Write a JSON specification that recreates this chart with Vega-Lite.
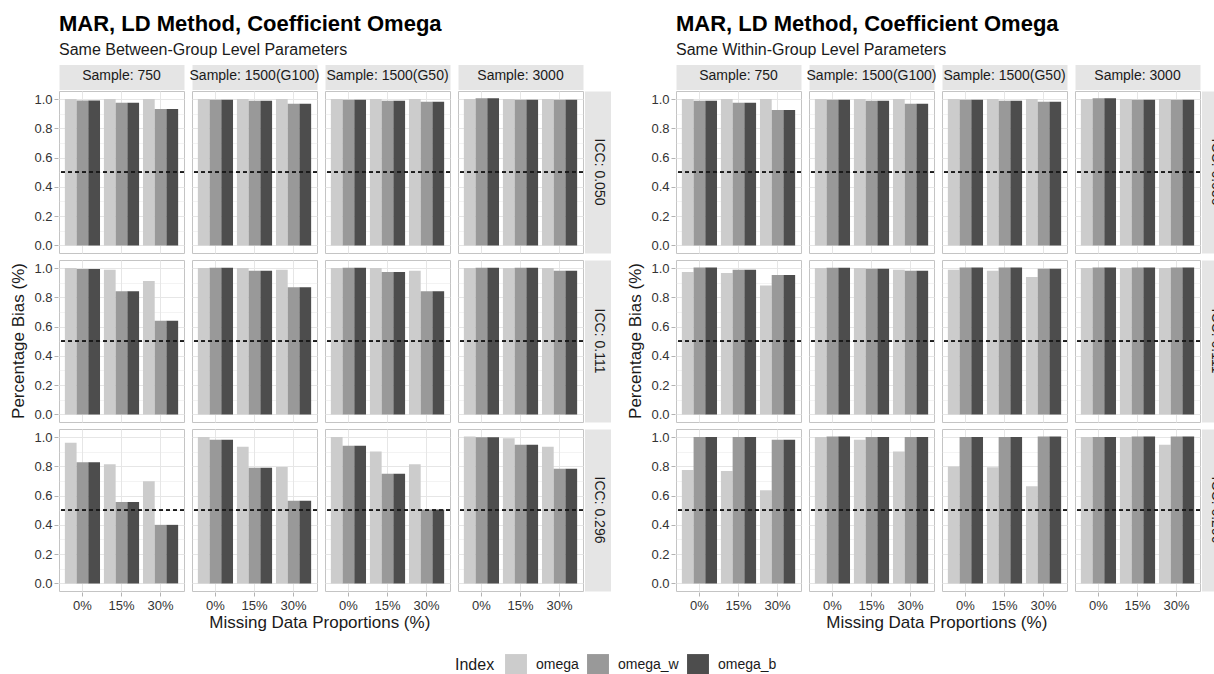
{
  "$schema": "https://vega.github.io/schema/vega-lite/v6.json",
  "background": "white",
  "padding": {"left": 9, "top": 12, "right": 0, "bottom": 0},
  "datasets": {
    "B": [
      {"i":"0.050","s":"750","m":"0%","k":"omega","v":1.0},{"i":"0.050","s":"750","m":"0%","k":"omega_w","v":0.99},{"i":"0.050","s":"750","m":"0%","k":"omega_b","v":0.99},
      {"i":"0.050","s":"750","m":"15%","k":"omega","v":1.0},{"i":"0.050","s":"750","m":"15%","k":"omega_w","v":0.975},{"i":"0.050","s":"750","m":"15%","k":"omega_b","v":0.975},
      {"i":"0.050","s":"750","m":"30%","k":"omega","v":1.0},{"i":"0.050","s":"750","m":"30%","k":"omega_w","v":0.932},{"i":"0.050","s":"750","m":"30%","k":"omega_b","v":0.932},
      {"i":"0.050","s":"1500(G100)","m":"0%","k":"omega","v":1.0},{"i":"0.050","s":"1500(G100)","m":"0%","k":"omega_w","v":0.995},{"i":"0.050","s":"1500(G100)","m":"0%","k":"omega_b","v":0.995},
      {"i":"0.050","s":"1500(G100)","m":"15%","k":"omega","v":1.0},{"i":"0.050","s":"1500(G100)","m":"15%","k":"omega_w","v":0.989},{"i":"0.050","s":"1500(G100)","m":"15%","k":"omega_b","v":0.989},
      {"i":"0.050","s":"1500(G100)","m":"30%","k":"omega","v":1.0},{"i":"0.050","s":"1500(G100)","m":"30%","k":"omega_w","v":0.968},{"i":"0.050","s":"1500(G100)","m":"30%","k":"omega_b","v":0.968},
      {"i":"0.050","s":"1500(G50)","m":"0%","k":"omega","v":1.0},{"i":"0.050","s":"1500(G50)","m":"0%","k":"omega_w","v":0.995},{"i":"0.050","s":"1500(G50)","m":"0%","k":"omega_b","v":0.995},
      {"i":"0.050","s":"1500(G50)","m":"15%","k":"omega","v":1.0},{"i":"0.050","s":"1500(G50)","m":"15%","k":"omega_w","v":0.989},{"i":"0.050","s":"1500(G50)","m":"15%","k":"omega_b","v":0.989},
      {"i":"0.050","s":"1500(G50)","m":"30%","k":"omega","v":1.0},{"i":"0.050","s":"1500(G50)","m":"30%","k":"omega_w","v":0.982},{"i":"0.050","s":"1500(G50)","m":"30%","k":"omega_b","v":0.982},
      {"i":"0.050","s":"3000","m":"0%","k":"omega","v":1.0},{"i":"0.050","s":"3000","m":"0%","k":"omega_w","v":1.005},{"i":"0.050","s":"3000","m":"0%","k":"omega_b","v":1.005},
      {"i":"0.050","s":"3000","m":"15%","k":"omega","v":1.0},{"i":"0.050","s":"3000","m":"15%","k":"omega_w","v":0.995},{"i":"0.050","s":"3000","m":"15%","k":"omega_b","v":0.995},
      {"i":"0.050","s":"3000","m":"30%","k":"omega","v":1.0},{"i":"0.050","s":"3000","m":"30%","k":"omega_w","v":0.995},{"i":"0.050","s":"3000","m":"30%","k":"omega_b","v":0.995},
      {"i":"0.111","s":"750","m":"0%","k":"omega","v":1.0},{"i":"0.111","s":"750","m":"0%","k":"omega_w","v":0.994},{"i":"0.111","s":"750","m":"0%","k":"omega_b","v":0.994},
      {"i":"0.111","s":"750","m":"15%","k":"omega","v":0.989},{"i":"0.111","s":"750","m":"15%","k":"omega_w","v":0.842},{"i":"0.111","s":"750","m":"15%","k":"omega_b","v":0.842},
      {"i":"0.111","s":"750","m":"30%","k":"omega","v":0.911},{"i":"0.111","s":"750","m":"30%","k":"omega_w","v":0.64},{"i":"0.111","s":"750","m":"30%","k":"omega_b","v":0.64},
      {"i":"0.111","s":"1500(G100)","m":"0%","k":"omega","v":1.0},{"i":"0.111","s":"1500(G100)","m":"0%","k":"omega_w","v":1.002},{"i":"0.111","s":"1500(G100)","m":"0%","k":"omega_b","v":1.002},
      {"i":"0.111","s":"1500(G100)","m":"15%","k":"omega","v":1.0},{"i":"0.111","s":"1500(G100)","m":"15%","k":"omega_w","v":0.982},{"i":"0.111","s":"1500(G100)","m":"15%","k":"omega_b","v":0.982},
      {"i":"0.111","s":"1500(G100)","m":"30%","k":"omega","v":0.989},{"i":"0.111","s":"1500(G100)","m":"30%","k":"omega_w","v":0.868},{"i":"0.111","s":"1500(G100)","m":"30%","k":"omega_b","v":0.868},
      {"i":"0.111","s":"1500(G50)","m":"0%","k":"omega","v":1.0},{"i":"0.111","s":"1500(G50)","m":"0%","k":"omega_w","v":1.002},{"i":"0.111","s":"1500(G50)","m":"0%","k":"omega_b","v":1.002},
      {"i":"0.111","s":"1500(G50)","m":"15%","k":"omega","v":1.0},{"i":"0.111","s":"1500(G50)","m":"15%","k":"omega_w","v":0.973},{"i":"0.111","s":"1500(G50)","m":"15%","k":"omega_b","v":0.973},
      {"i":"0.111","s":"1500(G50)","m":"30%","k":"omega","v":0.982},{"i":"0.111","s":"1500(G50)","m":"30%","k":"omega_w","v":0.842},{"i":"0.111","s":"1500(G50)","m":"30%","k":"omega_b","v":0.842},
      {"i":"0.111","s":"3000","m":"0%","k":"omega","v":1.0},{"i":"0.111","s":"3000","m":"0%","k":"omega_w","v":1.002},{"i":"0.111","s":"3000","m":"0%","k":"omega_b","v":1.002},
      {"i":"0.111","s":"3000","m":"15%","k":"omega","v":1.0},{"i":"0.111","s":"3000","m":"15%","k":"omega_w","v":1.002},{"i":"0.111","s":"3000","m":"15%","k":"omega_b","v":1.002},
      {"i":"0.111","s":"3000","m":"30%","k":"omega","v":1.0},{"i":"0.111","s":"3000","m":"30%","k":"omega_w","v":0.982},{"i":"0.111","s":"3000","m":"30%","k":"omega_b","v":0.982},
      {"i":"0.296","s":"750","m":"0%","k":"omega","v":0.961},{"i":"0.296","s":"750","m":"0%","k":"omega_w","v":0.827},{"i":"0.296","s":"750","m":"0%","k":"omega_b","v":0.827},
      {"i":"0.296","s":"750","m":"15%","k":"omega","v":0.814},{"i":"0.296","s":"750","m":"15%","k":"omega_w","v":0.557},{"i":"0.296","s":"750","m":"15%","k":"omega_b","v":0.557},
      {"i":"0.296","s":"750","m":"30%","k":"omega","v":0.698},{"i":"0.296","s":"750","m":"30%","k":"omega_w","v":0.4},{"i":"0.296","s":"750","m":"30%","k":"omega_b","v":0.4},
      {"i":"0.296","s":"1500(G100)","m":"0%","k":"omega","v":1.0},{"i":"0.296","s":"1500(G100)","m":"0%","k":"omega_w","v":0.982},{"i":"0.296","s":"1500(G100)","m":"0%","k":"omega_b","v":0.982},
      {"i":"0.296","s":"1500(G100)","m":"15%","k":"omega","v":0.934},{"i":"0.296","s":"1500(G100)","m":"15%","k":"omega_w","v":0.791},{"i":"0.296","s":"1500(G100)","m":"15%","k":"omega_b","v":0.791},
      {"i":"0.296","s":"1500(G100)","m":"30%","k":"omega","v":0.795},{"i":"0.296","s":"1500(G100)","m":"30%","k":"omega_w","v":0.564},{"i":"0.296","s":"1500(G100)","m":"30%","k":"omega_b","v":0.564},
      {"i":"0.296","s":"1500(G50)","m":"0%","k":"omega","v":1.0},{"i":"0.296","s":"1500(G50)","m":"0%","k":"omega_w","v":0.941},{"i":"0.296","s":"1500(G50)","m":"0%","k":"omega_b","v":0.941},
      {"i":"0.296","s":"1500(G50)","m":"15%","k":"omega","v":0.902},{"i":"0.296","s":"1500(G50)","m":"15%","k":"omega_w","v":0.75},{"i":"0.296","s":"1500(G50)","m":"15%","k":"omega_b","v":0.75},
      {"i":"0.296","s":"1500(G50)","m":"30%","k":"omega","v":0.814},{"i":"0.296","s":"1500(G50)","m":"30%","k":"omega_w","v":0.505},{"i":"0.296","s":"1500(G50)","m":"30%","k":"omega_b","v":0.505},
      {"i":"0.296","s":"3000","m":"0%","k":"omega","v":1.003},{"i":"0.296","s":"3000","m":"0%","k":"omega_w","v":0.998},{"i":"0.296","s":"3000","m":"0%","k":"omega_b","v":0.998},
      {"i":"0.296","s":"3000","m":"15%","k":"omega","v":0.991},{"i":"0.296","s":"3000","m":"15%","k":"omega_w","v":0.948},{"i":"0.296","s":"3000","m":"15%","k":"omega_b","v":0.948},
      {"i":"0.296","s":"3000","m":"30%","k":"omega","v":0.934},{"i":"0.296","s":"3000","m":"30%","k":"omega_w","v":0.784},{"i":"0.296","s":"3000","m":"30%","k":"omega_b","v":0.784}
    ],
    "W": [
      {"i":"0.050","s":"750","m":"0%","k":"omega","v":1.0},{"i":"0.050","s":"750","m":"0%","k":"omega_w","v":0.989},{"i":"0.050","s":"750","m":"0%","k":"omega_b","v":0.989},
      {"i":"0.050","s":"750","m":"15%","k":"omega","v":1.0},{"i":"0.050","s":"750","m":"15%","k":"omega_w","v":0.975},{"i":"0.050","s":"750","m":"15%","k":"omega_b","v":0.975},
      {"i":"0.050","s":"750","m":"30%","k":"omega","v":1.0},{"i":"0.050","s":"750","m":"30%","k":"omega_w","v":0.925},{"i":"0.050","s":"750","m":"30%","k":"omega_b","v":0.925},
      {"i":"0.050","s":"1500(G100)","m":"0%","k":"omega","v":1.0},{"i":"0.050","s":"1500(G100)","m":"0%","k":"omega_w","v":0.995},{"i":"0.050","s":"1500(G100)","m":"0%","k":"omega_b","v":0.995},
      {"i":"0.050","s":"1500(G100)","m":"15%","k":"omega","v":1.0},{"i":"0.050","s":"1500(G100)","m":"15%","k":"omega_w","v":0.989},{"i":"0.050","s":"1500(G100)","m":"15%","k":"omega_b","v":0.989},
      {"i":"0.050","s":"1500(G100)","m":"30%","k":"omega","v":1.0},{"i":"0.050","s":"1500(G100)","m":"30%","k":"omega_w","v":0.968},{"i":"0.050","s":"1500(G100)","m":"30%","k":"omega_b","v":0.968},
      {"i":"0.050","s":"1500(G50)","m":"0%","k":"omega","v":1.0},{"i":"0.050","s":"1500(G50)","m":"0%","k":"omega_w","v":0.995},{"i":"0.050","s":"1500(G50)","m":"0%","k":"omega_b","v":0.995},
      {"i":"0.050","s":"1500(G50)","m":"15%","k":"omega","v":1.0},{"i":"0.050","s":"1500(G50)","m":"15%","k":"omega_w","v":0.989},{"i":"0.050","s":"1500(G50)","m":"15%","k":"omega_b","v":0.989},
      {"i":"0.050","s":"1500(G50)","m":"30%","k":"omega","v":1.0},{"i":"0.050","s":"1500(G50)","m":"30%","k":"omega_w","v":0.982},{"i":"0.050","s":"1500(G50)","m":"30%","k":"omega_b","v":0.982},
      {"i":"0.050","s":"3000","m":"0%","k":"omega","v":1.0},{"i":"0.050","s":"3000","m":"0%","k":"omega_w","v":1.005},{"i":"0.050","s":"3000","m":"0%","k":"omega_b","v":1.005},
      {"i":"0.050","s":"3000","m":"15%","k":"omega","v":1.0},{"i":"0.050","s":"3000","m":"15%","k":"omega_w","v":0.995},{"i":"0.050","s":"3000","m":"15%","k":"omega_b","v":0.995},
      {"i":"0.050","s":"3000","m":"30%","k":"omega","v":1.0},{"i":"0.050","s":"3000","m":"30%","k":"omega_w","v":0.995},{"i":"0.050","s":"3000","m":"30%","k":"omega_b","v":0.995},
      {"i":"0.111","s":"750","m":"0%","k":"omega","v":0.973},{"i":"0.111","s":"750","m":"0%","k":"omega_w","v":1.004},{"i":"0.111","s":"750","m":"0%","k":"omega_b","v":1.004},
      {"i":"0.111","s":"750","m":"15%","k":"omega","v":0.966},{"i":"0.111","s":"750","m":"15%","k":"omega_w","v":0.989},{"i":"0.111","s":"750","m":"15%","k":"omega_b","v":0.989},
      {"i":"0.111","s":"750","m":"30%","k":"omega","v":0.881},{"i":"0.111","s":"750","m":"30%","k":"omega_w","v":0.952},{"i":"0.111","s":"750","m":"30%","k":"omega_b","v":0.952},
      {"i":"0.111","s":"1500(G100)","m":"0%","k":"omega","v":1.0},{"i":"0.111","s":"1500(G100)","m":"0%","k":"omega_w","v":1.002},{"i":"0.111","s":"1500(G100)","m":"0%","k":"omega_b","v":1.002},
      {"i":"0.111","s":"1500(G100)","m":"15%","k":"omega","v":1.0},{"i":"0.111","s":"1500(G100)","m":"15%","k":"omega_w","v":0.995},{"i":"0.111","s":"1500(G100)","m":"15%","k":"omega_b","v":0.995},
      {"i":"0.111","s":"1500(G100)","m":"30%","k":"omega","v":0.989},{"i":"0.111","s":"1500(G100)","m":"30%","k":"omega_w","v":0.982},{"i":"0.111","s":"1500(G100)","m":"30%","k":"omega_b","v":0.982},
      {"i":"0.111","s":"1500(G50)","m":"0%","k":"omega","v":0.989},{"i":"0.111","s":"1500(G50)","m":"0%","k":"omega_w","v":1.004},{"i":"0.111","s":"1500(G50)","m":"0%","k":"omega_b","v":1.004},
      {"i":"0.111","s":"1500(G50)","m":"15%","k":"omega","v":0.982},{"i":"0.111","s":"1500(G50)","m":"15%","k":"omega_w","v":1.004},{"i":"0.111","s":"1500(G50)","m":"15%","k":"omega_b","v":1.004},
      {"i":"0.111","s":"1500(G50)","m":"30%","k":"omega","v":0.938},{"i":"0.111","s":"1500(G50)","m":"30%","k":"omega_w","v":0.995},{"i":"0.111","s":"1500(G50)","m":"30%","k":"omega_b","v":0.995},
      {"i":"0.111","s":"3000","m":"0%","k":"omega","v":1.0},{"i":"0.111","s":"3000","m":"0%","k":"omega_w","v":1.004},{"i":"0.111","s":"3000","m":"0%","k":"omega_b","v":1.004},
      {"i":"0.111","s":"3000","m":"15%","k":"omega","v":1.0},{"i":"0.111","s":"3000","m":"15%","k":"omega_w","v":1.004},{"i":"0.111","s":"3000","m":"15%","k":"omega_b","v":1.004},
      {"i":"0.111","s":"3000","m":"30%","k":"omega","v":1.0},{"i":"0.111","s":"3000","m":"30%","k":"omega_w","v":1.004},{"i":"0.111","s":"3000","m":"30%","k":"omega_b","v":1.004},
      {"i":"0.296","s":"750","m":"0%","k":"omega","v":0.775},{"i":"0.296","s":"750","m":"0%","k":"omega_w","v":1.0},{"i":"0.296","s":"750","m":"0%","k":"omega_b","v":1.0},
      {"i":"0.296","s":"750","m":"15%","k":"omega","v":0.768},{"i":"0.296","s":"750","m":"15%","k":"omega_w","v":1.0},{"i":"0.296","s":"750","m":"15%","k":"omega_b","v":1.0},
      {"i":"0.296","s":"750","m":"30%","k":"omega","v":0.636},{"i":"0.296","s":"750","m":"30%","k":"omega_w","v":0.982},{"i":"0.296","s":"750","m":"30%","k":"omega_b","v":0.982},
      {"i":"0.296","s":"1500(G100)","m":"0%","k":"omega","v":1.0},{"i":"0.296","s":"1500(G100)","m":"0%","k":"omega_w","v":1.004},{"i":"0.296","s":"1500(G100)","m":"0%","k":"omega_b","v":1.004},
      {"i":"0.296","s":"1500(G100)","m":"15%","k":"omega","v":0.982},{"i":"0.296","s":"1500(G100)","m":"15%","k":"omega_w","v":1.0},{"i":"0.296","s":"1500(G100)","m":"15%","k":"omega_b","v":1.0},
      {"i":"0.296","s":"1500(G100)","m":"30%","k":"omega","v":0.902},{"i":"0.296","s":"1500(G100)","m":"30%","k":"omega_w","v":1.0},{"i":"0.296","s":"1500(G100)","m":"30%","k":"omega_b","v":1.0},
      {"i":"0.296","s":"1500(G50)","m":"0%","k":"omega","v":0.798},{"i":"0.296","s":"1500(G50)","m":"0%","k":"omega_w","v":1.0},{"i":"0.296","s":"1500(G50)","m":"0%","k":"omega_b","v":1.0},
      {"i":"0.296","s":"1500(G50)","m":"15%","k":"omega","v":0.793},{"i":"0.296","s":"1500(G50)","m":"15%","k":"omega_w","v":1.0},{"i":"0.296","s":"1500(G50)","m":"15%","k":"omega_b","v":1.0},
      {"i":"0.296","s":"1500(G50)","m":"30%","k":"omega","v":0.664},{"i":"0.296","s":"1500(G50)","m":"30%","k":"omega_w","v":1.004},{"i":"0.296","s":"1500(G50)","m":"30%","k":"omega_b","v":1.004},
      {"i":"0.296","s":"3000","m":"0%","k":"omega","v":1.0},{"i":"0.296","s":"3000","m":"0%","k":"omega_w","v":1.0},{"i":"0.296","s":"3000","m":"0%","k":"omega_b","v":1.0},
      {"i":"0.296","s":"3000","m":"15%","k":"omega","v":1.0},{"i":"0.296","s":"3000","m":"15%","k":"omega_w","v":1.004},{"i":"0.296","s":"3000","m":"15%","k":"omega_b","v":1.004},
      {"i":"0.296","s":"3000","m":"30%","k":"omega","v":0.948},{"i":"0.296","s":"3000","m":"30%","k":"omega_w","v":1.004},{"i":"0.296","s":"3000","m":"30%","k":"omega_b","v":1.004}
    ]
  },
  "hconcat": [
    {
      "title": {"text": "Missing Data Proportions (%)", "orient": "bottom", "anchor": "middle", "fontSize": 17, "fontWeight": "normal", "color": "#1a1a1a", "offset": 3, "dx": 12},
      "vconcat": [
        {
          "data": {"name": "B"},
          "title": {"text": "MAR, LD Method, Coefficient Omega", "subtitle": "Same Between-Group Level Parameters", "anchor": "start", "frame": "group"},
          "spacing": {"row": 5, "column": 6},
          "facet": {
            "row": {"field": "i", "type": "nominal", "header": {"title": "Percentage Bias (%)", "titleOrient": "left", "titlePadding": -5, "labelOrient": "right", "labelAngle": 90, "labelBaseline": "middle", "labelPadding": -13, "labelExpr": "'ICC: ' + datum.value"}},
            "column": {"field": "s", "type": "nominal", "sort": ["750", "1500(G100)", "1500(G50)", "3000"], "header": {"title": null, "labelOrient": "top", "labelBaseline": "middle", "labelPadding": -12.5, "labelExpr": "'Sample: ' + datum.value"}}
          },
          "spec": {
            "width": 125,
            "height": 162,
            "layer": [
              {
                "mark": {"type": "bar"},
                "encoding": {
                  "x": {"field": "m", "type": "nominal", "scale": {"paddingInner": 0.1, "paddingOuter": 0.15},
                        "axis": {"orient": "bottom", "title": null, "labelAngle": 0, "grid": true, "bandPosition": 0.5, "tickSize": 4, "labelPadding": 3}},
                  "xOffset": {"field": "k", "type": "nominal", "sort": ["omega", "omega_w", "omega_b"], "scale": {"paddingInner": 0, "paddingOuter": 0}},
                  "y": {"field": "v", "type": "quantitative", "stack": null, "scale": {"domain": [-0.052, 1.055], "nice": false},
                        "axis": {"orient": "left", "title": null, "values": [0, 0.1, 0.2, 0.3, 0.4, 0.5, 0.6, 0.7, 0.8, 0.9, 1],
                                 "labelExpr": "round(datum.value*10)%2==0 ? format(datum.value,'.1f') : ''", "labelOverlap": false,
                                 "tickSize": 4, "labelPadding": 2, "grid": true,
                                 "tickColor": {"condition": {"test": "round(datum.value*10)%2==1", "value": "rgba(0,0,0,0)"}, "value": "#b3b3b3"},
                                 "gridWidth": {"condition": {"test": "round(datum.value*10)%2==1", "value": 0.5}, "value": 1}}},
                  "color": {"field": "k", "type": "nominal", "sort": ["omega", "omega_w", "omega_b"],
                            "scale": {"domain": ["omega", "omega_w", "omega_b"], "range": ["#cccccc", "#999999", "#4d4d4d"]},
                            "legend": {"title": "Index", "orient": "bottom", "direction": "horizontal", "titleOrient": "left", "symbolType": "square", "symbolSize": 480, "symbolStrokeWidth": 0, "symbolOpacity": 1, "labelFontSize": 14, "titleFontSize": 16, "titleFontWeight": "normal", "titleColor": "#1a1a1a", "labelColor": "#1a1a1a", "columnPadding": 8, "labelOffset": 9, "titlePadding": 10, "offset": 23}}
                }
              },
              {
                "mark": {"type": "rule", "strokeDash": [4, 3], "color": "#1a1a1a", "strokeWidth": 0.8},
                "encoding": {"y": {"datum": 0.5, "axis": null}}
              },
              {
                "mark": {"type": "bar", "opacity": 0, "clip": true},
                "encoding": {
                  "x": {"field": "m", "type": "nominal", "axis": {"orient": "top", "labels": false, "ticks": false, "grid": false, "title": null, "domain": true, "domainColor": "#e5e5e5", "domainWidth": 25, "domainCap": "butt", "offset": 13}},
                  "y": {"field": "v", "type": "quantitative", "stack": null, "axis": {"orient": "right", "labels": false, "ticks": false, "grid": false, "title": null, "domain": true, "domainColor": "#e5e5e5", "domainWidth": 26, "domainCap": "butt", "offset": 13.5}}
                }
              }
            ],
            "resolve": {"axis": {"x": "independent", "y": "independent"}}
          }
        }
      ]
    },
    {
      "title": {"text": "Missing Data Proportions (%)", "orient": "bottom", "anchor": "middle", "fontSize": 17, "fontWeight": "normal", "color": "#1a1a1a", "offset": 3, "dx": 12},
      "vconcat": [
        {
          "data": {"name": "W"},
          "title": {"text": "MAR, LD Method, Coefficient Omega", "subtitle": "Same Within-Group Level Parameters", "anchor": "start", "frame": "group"},
          "spacing": {"row": 5, "column": 6},
          "facet": {
            "row": {"field": "i", "type": "nominal", "header": {"title": "Percentage Bias (%)", "titleOrient": "left", "titlePadding": -5, "labelOrient": "right", "labelAngle": 90, "labelBaseline": "middle", "labelPadding": -13, "labelExpr": "'ICC: ' + datum.value"}},
            "column": {"field": "s", "type": "nominal", "sort": ["750", "1500(G100)", "1500(G50)", "3000"], "header": {"title": null, "labelOrient": "top", "labelBaseline": "middle", "labelPadding": -12.5, "labelExpr": "'Sample: ' + datum.value"}}
          },
          "spec": {
            "width": 125,
            "height": 162,
            "layer": [
              {
                "mark": {"type": "bar"},
                "encoding": {
                  "x": {"field": "m", "type": "nominal", "scale": {"paddingInner": 0.1, "paddingOuter": 0.15},
                        "axis": {"orient": "bottom", "title": null, "labelAngle": 0, "grid": true, "bandPosition": 0.5, "tickSize": 4, "labelPadding": 3}},
                  "xOffset": {"field": "k", "type": "nominal", "sort": ["omega", "omega_w", "omega_b"], "scale": {"paddingInner": 0, "paddingOuter": 0}},
                  "y": {"field": "v", "type": "quantitative", "stack": null, "scale": {"domain": [-0.052, 1.055], "nice": false},
                        "axis": {"orient": "left", "title": null, "values": [0, 0.1, 0.2, 0.3, 0.4, 0.5, 0.6, 0.7, 0.8, 0.9, 1],
                                 "labelExpr": "round(datum.value*10)%2==0 ? format(datum.value,'.1f') : ''", "labelOverlap": false,
                                 "tickSize": 4, "labelPadding": 2, "grid": true,
                                 "tickColor": {"condition": {"test": "round(datum.value*10)%2==1", "value": "rgba(0,0,0,0)"}, "value": "#b3b3b3"},
                                 "gridWidth": {"condition": {"test": "round(datum.value*10)%2==1", "value": 0.5}, "value": 1}}},
                  "color": {"field": "k", "type": "nominal", "sort": ["omega", "omega_w", "omega_b"],
                            "scale": {"domain": ["omega", "omega_w", "omega_b"], "range": ["#cccccc", "#999999", "#4d4d4d"]},
                            "legend": {"title": "Index", "orient": "bottom", "direction": "horizontal", "titleOrient": "left", "symbolType": "square", "symbolSize": 480, "symbolStrokeWidth": 0, "symbolOpacity": 1, "labelFontSize": 14, "titleFontSize": 16, "titleFontWeight": "normal", "titleColor": "#1a1a1a", "labelColor": "#1a1a1a", "columnPadding": 8, "labelOffset": 9, "titlePadding": 10, "offset": 23}}
                }
              },
              {
                "mark": {"type": "rule", "strokeDash": [4, 3], "color": "#1a1a1a", "strokeWidth": 0.8},
                "encoding": {"y": {"datum": 0.5, "axis": null}}
              },
              {
                "mark": {"type": "bar", "opacity": 0, "clip": true},
                "encoding": {
                  "x": {"field": "m", "type": "nominal", "axis": {"orient": "top", "labels": false, "ticks": false, "grid": false, "title": null, "domain": true, "domainColor": "#e5e5e5", "domainWidth": 25, "domainCap": "butt", "offset": 13}},
                  "y": {"field": "v", "type": "quantitative", "stack": null, "axis": {"orient": "right", "labels": false, "ticks": false, "grid": false, "title": null, "domain": true, "domainColor": "#e5e5e5", "domainWidth": 26, "domainCap": "butt", "offset": 13.5}}
                }
              }
            ],
            "resolve": {"axis": {"x": "independent", "y": "independent"}}
          }
        }
      ]
    }
  ],
  "spacing": 20,
  "resolve": {"scale": {"color": "shared"}, "legend": {"color": "shared"}},
  "config": {
    "font": "Liberation Sans",
    "view": {"stroke": "#c4c4c4", "strokeWidth": 1},
    "axis": {"domain": false, "labelColor": "#333333", "labelFontSize": 13, "tickColor": "#b3b3b3", "gridColor": "#e6e6e6", "labelFont": "Liberation Sans"},
    "header": {"labelFont": "Liberation Sans", "labelFontSize": 14, "labelColor": "#1a1a1a", "titleFont": "Liberation Sans", "titleFontSize": 17, "titleFontWeight": "normal", "titleColor": "#1a1a1a"},
    "title": {"font": "Liberation Sans", "fontSize": 22, "fontWeight": "bold", "color": "#000000", "subtitleFont": "Liberation Sans", "subtitleFontSize": 16, "subtitleColor": "#1a1a1a", "subtitlePadding": 6, "offset": 10},
    "legend": {"layout": {"bottom": {"anchor": "middle"}}}
  }
}
